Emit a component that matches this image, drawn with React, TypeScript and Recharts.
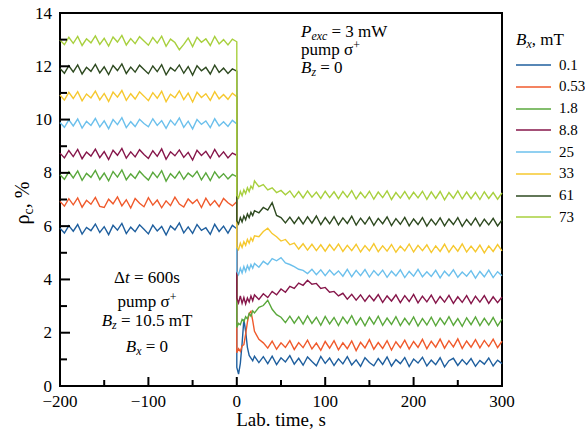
import { LineChart, Line, XAxis, YAxis, ReferenceArea } from 'recharts';

// lab time, s (t = 0 appears twice: before and after the switch)
const time = [
  -200, -195, -190, -185, -180, -175, -170, -165, -160, -155,
  -150, -145, -140, -135, -130, -125, -120, -115, -110, -105,
  -100, -95, -90, -85, -80, -75, -70, -65, -60, -55,
  -50, -45, -40, -35, -30, -25, -20, -15, -10, -5,
  0, 0, 2, 4, 6, 8, 10, 12, 14, 16,
  18, 20, 25, 30, 35, 40, 45, 50, 55, 60,
  65, 70, 75, 80, 85, 90, 95, 100, 105, 110,
  115, 120, 125, 130, 135, 140, 145, 150, 155, 160,
  165, 170, 175, 180, 185, 190, 195, 200, 205, 210,
  215, 220, 225, 230, 235, 240, 245, 250, 255, 260,
  265, 270, 275, 280, 285, 290, 295, 300,
];

const bx01 = [
  5.92, 5.74, 6.02, 5.81, 6.06, 5.70, 5.95, 5.83, 6.08, 5.76,
  5.98, 5.68, 6.03, 5.85, 6.10, 5.72, 5.96, 5.79, 6.05, 5.88,
  5.71, 6.04, 5.82, 5.99, 5.67, 6.01, 5.86, 6.12, 5.75, 5.97,
  5.73, 6.06, 5.84, 5.94, 5.69, 6.07, 5.80, 6.00, 5.74, 6.03,
  5.90, 0.7, 0.45, 0.85, 1.6, 2.5, 2.05, 1.45, 1.15, 1.05,
  0.95, 1.12, 0.88, 1.10, 0.84, 1.12, 0.80, 1.06, 0.90, 1.14,
  0.82, 1.04, 0.78, 1.09, 0.92, 0.76, 1.11, 0.85, 1.05, 0.77,
  1.02, 0.83, 1.10, 0.79, 0.98, 0.74, 1.06, 0.88, 0.76, 1.03,
  0.81, 1.09, 0.75, 0.99, 0.84, 1.07, 0.73, 1.01, 0.86, 1.08,
  0.75, 0.97, 0.80, 1.06, 0.72, 0.95, 1.04, 0.77, 0.99, 0.81,
  1.03, 0.74, 0.96, 0.82, 1.05, 0.75, 0.97, 0.84,
];

const bx053 = [
  6.93, 6.75, 7.03, 6.80, 7.06, 6.71, 6.97, 6.82, 7.08, 6.74,
  6.70, 7.01, 6.84, 7.10, 6.76, 6.99, 6.68, 7.04, 6.86, 6.73,
  7.07, 6.79, 6.98, 6.69, 6.95, 6.77, 7.09, 6.83, 6.72, 7.02,
  6.85, 7.00, 6.70, 7.05, 6.78, 6.96, 6.73, 7.04, 6.88, 6.76,
  6.92, 1.25, 1.4, 1.3, 1.5, 1.55, 1.95, 2.4, 2.72, 2.8,
  2.45, 2.05, 1.75, 1.62, 1.42, 1.68, 1.38, 1.62, 1.45, 1.70,
  1.37, 1.63, 1.44, 1.72, 1.39, 1.61, 1.34, 1.67, 1.42, 1.70,
  1.36, 1.62, 1.40, 1.69, 1.33, 1.64, 1.43, 1.74, 1.38, 1.63,
  1.41, 1.70, 1.35, 1.66, 1.44, 1.72, 1.39, 1.67, 1.45, 1.75,
  1.40, 1.68, 1.46, 1.76, 1.42, 1.70, 1.47, 1.77, 1.41, 1.69,
  1.46, 1.74, 1.43, 1.71, 1.48, 1.76, 1.44, 1.68,
];

const bx18 = [
  7.93, 7.76, 8.04, 7.81, 8.07, 7.72, 7.98, 7.83, 8.09, 7.75,
  7.99, 7.70, 8.05, 7.84, 8.11, 7.74, 7.96, 7.79, 8.06, 7.88,
  7.73, 8.02, 7.82, 8.08, 7.69, 7.97, 7.80, 8.05, 7.76, 7.99,
  7.85, 8.06, 7.74, 8.00, 7.71, 8.04, 7.81, 7.97, 7.77, 7.94,
  7.86, 2.2, 2.35, 2.3, 2.5, 2.42, 2.6, 2.52, 2.72, 2.62,
  2.82, 2.74, 2.95, 3.02, 3.22, 2.88, 2.68, 2.58, 2.38, 2.62,
  2.36, 2.60, 2.32, 2.63, 2.35, 2.58, 2.28, 2.61, 2.33, 2.57,
  2.27, 2.59, 2.35, 2.64, 2.30, 2.56, 2.26, 2.58, 2.32, 2.62,
  2.28, 2.55, 2.31, 2.60, 2.27, 2.54, 2.30, 2.59, 2.25, 2.53,
  2.29, 2.58, 2.26, 2.55, 2.31, 2.60, 2.28, 2.53, 2.24, 2.56,
  2.30, 2.59, 2.27, 2.54, 2.29, 2.57, 2.26, 2.51,
];

const bx88 = [
  8.74, 8.56, 8.84, 8.61, 8.88, 8.53, 8.78, 8.63, 8.89, 8.57,
  8.80, 8.50, 8.85, 8.66, 8.92, 8.55, 8.79, 8.60, 8.87, 8.69,
  8.54, 8.83, 8.62, 8.90, 8.51, 8.79, 8.64, 8.86, 8.58, 8.77,
  8.48, 8.85, 8.65, 8.81, 8.55, 8.88, 8.60, 8.79, 8.56, 8.74,
  8.66, 3.3, 3.12, 3.38, 3.1, 3.32, 3.08, 3.3, 3.15, 3.38,
  3.2, 3.42, 3.25, 3.46, 3.32, 3.55, 3.42, 3.64, 3.52, 3.74,
  3.66, 3.86, 3.78, 3.97, 3.82, 3.85, 3.66, 3.70, 3.52, 3.55,
  3.38, 3.48, 3.26, 3.44, 3.22, 3.42, 3.18, 3.40, 3.20, 3.43,
  3.14, 3.38, 3.19, 3.42, 3.13, 3.39, 3.17, 3.44, 3.12, 3.37,
  3.16, 3.41, 3.11, 3.36, 3.15, 3.40, 3.10, 3.35, 3.14, 3.39,
  3.09, 3.37, 3.15, 3.39, 3.10, 3.35, 3.13, 3.34,
];

const bx25 = [
  9.89, 9.71, 9.99, 9.76, 10.02, 9.68, 9.93, 9.78, 10.04, 9.72,
  9.95, 9.66, 10.00, 9.81, 10.07, 9.70, 9.92, 9.74, 10.01, 9.85,
  9.73, 10.03, 9.78, 9.96, 9.67, 9.98, 9.79, 10.06, 9.71, 9.94,
  9.65, 10.00, 9.82, 9.95, 9.70, 10.03, 9.76, 9.92, 9.74, 9.97,
  9.84, 4.3, 4.18, 4.42, 4.24, 4.48, 4.3, 4.52, 4.36, 4.56,
  4.42, 4.6, 4.46, 4.68, 4.56, 4.78, 4.7, 4.82, 4.62, 4.56,
  4.48, 4.38, 4.34, 4.22, 4.38, 4.18, 4.36, 4.14, 4.35, 4.17,
  4.32, 4.12, 4.38, 4.10, 4.34, 4.14, 4.37, 4.09, 4.33, 4.15,
  4.35, 4.08, 4.31, 4.13, 4.36, 4.07, 4.30, 4.12, 4.38, 4.10,
  4.29, 4.11, 4.34, 4.06, 4.31, 4.13, 4.36, 4.08, 4.28, 4.12,
  4.33, 4.05, 4.30, 4.10, 4.35, 4.07, 4.29, 4.14,
];

const bx33 = [
  10.92, 10.73, 11.02, 10.79, 11.05, 10.70, 10.96, 10.81, 11.07, 10.74,
  10.98, 10.68, 11.03, 10.84, 11.09, 10.72, 10.97, 10.77, 11.04, 10.88,
  10.71, 11.01, 10.80, 11.06, 10.67, 10.95, 10.82, 11.08, 10.75, 10.99,
  10.66, 11.02, 10.83, 10.97, 10.72, 11.05, 10.78, 10.94, 10.76, 10.99,
  10.86, 5.22, 5.12, 5.36, 5.2, 5.42, 5.28, 5.5, 5.36, 5.56,
  5.44, 5.64, 5.6, 5.8, 5.92, 5.72, 5.6, 5.44, 5.5, 5.3,
  5.36, 5.14, 5.34, 5.10, 5.32, 5.08, 5.30, 5.06, 5.31, 5.09,
  5.33, 5.05, 5.28, 5.08, 5.32, 5.03, 5.27, 5.07, 5.34, 5.04,
  5.26, 5.06, 5.31, 5.02, 5.25, 5.07, 5.33, 5.03, 5.28, 5.08,
  5.30, 5.01, 5.26, 5.05, 5.32, 5.02, 5.27, 5.06, 5.33, 5.03,
  5.25, 5.04, 5.29, 5.00, 5.26, 5.05, 5.31, 5.07,
];

const bx61 = [
  11.92, 11.74, 12.02, 11.79, 12.05, 11.71, 11.96, 11.81, 12.07, 11.75,
  11.98, 11.69, 12.03, 11.84, 12.09, 11.73, 11.97, 11.78, 12.04, 11.88,
  11.72, 12.01, 11.80, 12.06, 11.68, 11.95, 11.82, 12.05, 11.74, 11.99,
  11.67, 12.02, 11.83, 11.96, 11.71, 12.04, 11.77, 11.93, 11.73, 11.90,
  11.82, 6.2, 6.08, 6.32, 6.16, 6.38, 6.24, 6.46, 6.32, 6.52,
  6.4, 6.58, 6.5, 6.7, 6.6, 6.88, 6.4, 6.32, 6.12, 6.34,
  6.10, 6.33, 6.08, 6.35, 6.11, 6.38, 6.06, 6.32, 6.09, 6.36,
  6.05, 6.31, 6.10, 6.37, 6.04, 6.30, 6.08, 6.34, 6.03, 6.29,
  6.09, 6.35, 6.02, 6.28, 6.07, 6.33, 6.01, 6.27, 6.06, 6.32,
  6.00, 6.26, 6.05, 6.31, 6.01, 6.27, 6.06, 6.32, 5.99, 6.25,
  6.04, 6.30, 6.00, 6.26, 6.05, 6.29, 6.01, 6.23,
];

const bx73 = [
  12.99, 12.81, 13.09, 12.86, 13.12, 12.78, 13.03, 12.88, 13.14, 12.82,
  13.05, 12.76, 13.10, 12.91, 13.16, 12.80, 13.04, 12.85, 13.11, 12.95,
  12.79, 13.08, 12.87, 13.13, 12.75, 13.02, 12.89, 12.62, 12.82, 13.06,
  12.74, 13.09, 12.90, 13.03, 12.78, 13.12, 12.84, 13.00, 12.80, 13.02,
  12.92, 7.15, 7.05, 7.3, 7.14, 7.36, 7.22, 7.44, 7.3, 7.5,
  7.4, 7.7, 7.48, 7.56, 7.36, 7.44, 7.26, 7.34, 7.18, 7.32,
  7.08, 7.30, 7.06, 7.32, 7.09, 7.28, 7.04, 7.31, 7.07, 7.29,
  7.03, 7.30, 7.08, 7.33, 7.02, 7.27, 7.06, 7.31, 7.01, 7.28,
  7.07, 7.32, 7.00, 7.26, 7.05, 7.30, 7.02, 7.27, 7.06, 7.31,
  7.01, 7.29, 7.04, 7.30, 6.99, 7.26, 7.05, 7.32, 7.02, 7.28,
  7.03, 7.27, 7.00, 7.29, 7.04, 7.26, 7.01, 7.25,
];

const seriesLabels = ['0.1', '0.53', '1.8', '8.8', '25', '33', '61', '73'];
const seriesValues = [bx01, bx053, bx18, bx88, bx25, bx33, bx61, bx73];
const seriesColors = ['#1f5f9e', '#f05a2c', '#5aa83c', '#86164a', '#6cc0ec', '#f6c82e', '#2e4a20', '#a8d03e'];

const xTicks = [-200, -150, -100, -50, 0, 50, 100, 150, 200, 250, 300];
const yTicks = [0, 1, 2, 3, 4, 5, 6, 7, 8, 9, 10, 11, 12, 13, 14];

const data = time.map((t, i) => {
  const row: Record<string, number> = { t };
  seriesValues.forEach((vals, k) => {
    row['s' + k] = vals[i];
  });
  return row;
});

const FONT = '"Liberation Serif", "DejaVu Serif", serif';

const fmt = (v: number) => (v < 0 ? '\u2212' + Math.abs(v) : String(v));

const tickText = { fontFamily: FONT, fontSize: 17 };

const XTick = (props: any) => {
  const { x, y, payload } = props;
  const major = payload.value % 100 === 0;
  return (
    <g>
      <line x1={x} y1={y} x2={x} y2={y - (major ? 9 : 6)} stroke="#000" strokeWidth={2} />
      {major && (
        <text x={x} y={y + 21} textAnchor="middle" style={tickText} fill="#000">
          {fmt(payload.value)}
        </text>
      )}
    </g>
  );
};

const YTick = (props: any) => {
  const { x, y, payload } = props;
  const major = payload.value % 2 === 0;
  return (
    <g>
      <line x1={x} y1={y} x2={x + (major ? 10 : 7)} y2={y} stroke="#000" strokeWidth={2} />
      {major && (
        <text x={x - 8} y={y} dy="0.33em" textAnchor="end" style={tickText} fill="#000">
          {payload.value}
        </text>
      )}
    </g>
  );
};

const sub = { fontSize: '0.7em', position: 'relative' as const, top: '0.3em' };
const sup = { fontSize: '0.7em', position: 'relative' as const, top: '-0.45em' };

// absolutely placed line of text; baseline in px
const TextLine = ({ x, base, size, center, children }: any) => (
  <div
    style={{
      position: 'absolute',
      left: center ? x - 100 : x,
      width: center ? 200 : undefined,
      top: base - 0.8375 * size,
      fontSize: size,
      lineHeight: `${size}px`,
      textAlign: center ? 'center' : 'left',
      whiteSpace: 'nowrap',
      fontFamily: FONT,
      color: '#000',
    }}
  >
    {children}
  </div>
);

const LegendBox = () => (
  <div style={{ position: 'absolute', left: 516, top: 0, fontFamily: FONT, color: '#000' }}>
    <TextLine x={0} base={45} size={17}>
      <i>B</i>
      <i style={sub}>x</i>, mT
    </TextLine>
    {seriesLabels.map((label, k) => (
      <div
        key={label}
        style={{ position: 'absolute', left: 0, top: 65 + k * 21.75 - 10, height: 20, display: 'flex', alignItems: 'center' }}
      >
        <svg width={36} height={4} style={{ display: 'block' }}>
          <line x1={0} y1={2} x2={35} y2={2} stroke={seriesColors[k]} strokeWidth={1.6} />
        </svg>
        <span style={{ fontSize: 15, marginLeft: 7, lineHeight: '15px', whiteSpace: 'nowrap' }}>{label}</span>
      </div>
    ))}
  </div>
);

export default function App() {
  return (
    <div style={{ position: 'absolute', left: 0, top: 0, width: 585, height: 441, background: '#fff' }}>
      <LineChart width={585} height={441} data={data} margin={{ top: 13, right: 83, bottom: 0, left: 0 }}>
        <XAxis
          dataKey="t"
          type="number"
          domain={[-200, 300]}
          ticks={xTicks}
          interval={0}
          axisLine={false}
          tickLine={false}
          tickSize={0}
          tickMargin={0}
          height={55}
          tick={<XTick />}
        />
        <YAxis
          type="number"
          domain={[0, 14]}
          ticks={yTicks}
          interval={0}
          axisLine={false}
          tickLine={false}
          tickSize={0}
          tickMargin={0}
          width={60}
          tick={<YTick />}
        />
        {seriesValues.map((_, k) => (
          <Line
            key={k}
            dataKey={'s' + k}
            name={seriesLabels[k]}
            stroke={seriesColors[k]}
            strokeWidth={1.4}
            dot={false}
            type="linear"
            isAnimationActive={false}
          />
        ))}
        <ReferenceArea x1={-200} x2={300} y1={0} y2={14} fill="none" stroke="#000" strokeWidth={2} />
      </LineChart>

      <LegendBox />

      <TextLine x={281} base={426} size={19} center>
        Lab. time, s
      </TextLine>

      <div
        style={{
          position: 'absolute',
          left: 22 - 50,
          top: 203 - 12,
          width: 100,
          height: 24,
          lineHeight: '24px',
          textAlign: 'center',
          fontSize: 20,
          fontFamily: FONT,
          transform: 'rotate(-90deg)',
          whiteSpace: 'nowrap',
        }}
      >
        ρ<span style={sub}>c</span>, %
      </div>

      <TextLine x={301} base={37} size={17}>
        <i>P</i>
        <i style={sub}>exc</i> = 3 mW
      </TextLine>
      <TextLine x={301} base={55} size={17}>
        pump σ<span style={sup}>+</span>
      </TextLine>
      <TextLine x={301} base={73} size={17}>
        <i>B</i>
        <i style={sub}>z</i> = 0
      </TextLine>

      <TextLine x={147} base={283} size={17} center>
        Δ<i>t</i> = 600s
      </TextLine>
      <TextLine x={147} base={307} size={17} center>
        pump σ<span style={sup}>+</span>
      </TextLine>
      <TextLine x={147} base={326} size={17} center>
        <i>B</i>
        <i style={sub}>z</i> = 10.5 mT
      </TextLine>
      <TextLine x={147} base={352} size={17} center>
        <i>B</i>
        <i style={sub}>x</i> = 0
      </TextLine>
    </div>
  );
}
